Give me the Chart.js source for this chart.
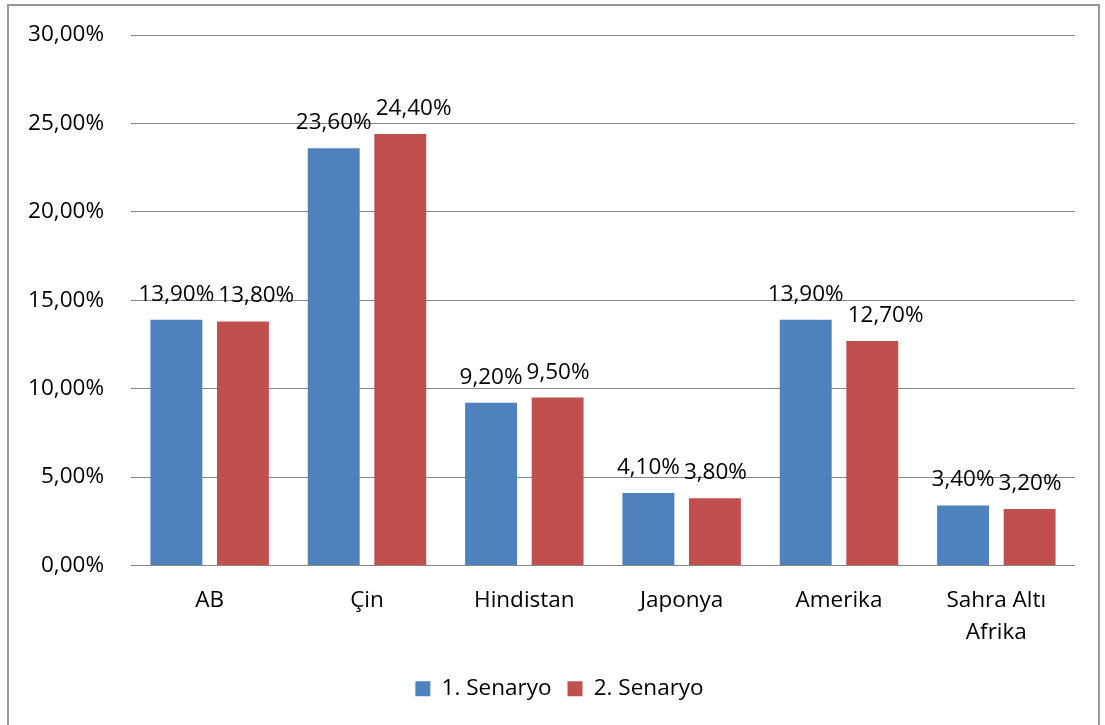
<!DOCTYPE html>
<html>
<head>
<meta charset="utf-8">
<script src="https://cdn.jsdelivr.net/npm/chart.js@4.4.1/dist/chart.umd.min.js"></script>
<style>
  body { margin: 0; background: #fff; }
  .wrap { position: relative; width: 1105px; height: 725px; overflow: hidden; }
  .frame { position: absolute; left: 7px; top: 4px; width: 1093px; height: 760px; border: 2px solid #999; box-sizing: border-box; }
  canvas { position: absolute; left: 0; top: 0; }
</style>
</head>
<body>
<div class="wrap">
  <div class="frame"></div>
  <canvas id="chart" width="1105" height="725"></canvas>
</div>
<script>
// Data (percent)
const categories = ['AB', 'Çin', 'Hindistan', 'Japonya', 'Amerika', ['Sahra Altı', 'Afrika']];
const senaryo1 = [13.9, 23.6, 9.2, 4.1, 13.9, 3.4];
const senaryo2 = [13.8, 24.4, 9.5, 3.8, 12.7, 3.2];
const seriesNames = ['1. Senaryo', '2. Senaryo'];
const yMax = 30;
const yStep = 5;

const fontFamily = "'Open Sans', sans-serif";
const fontSize = 22.5;
const textColor = '#000';
const gridColor = '#878787';

const fmt = v => v.toFixed(2).replace('.', ',') + '%';

// Value labels above bars, pushed apart when they would overlap
const valueLabels = {
  id: 'valueLabels',
  afterDatasetsDraw(chart) {
    const ctx = chart.ctx;
    ctx.save();
    ctx.font = fontSize + 'px ' + fontFamily;
    ctx.fillStyle = textColor;
    ctx.textAlign = 'center';
    ctx.textBaseline = 'alphabetic';
    const m0 = chart.getDatasetMeta(0).data;
    const m1 = chart.getDatasetMeta(1).data;
    m0.forEach((bar, i) => {
      const t0 = fmt(chart.data.datasets[0].data[i]);
      const t1 = fmt(chart.data.datasets[1].data[i]);
      const w0 = ctx.measureText(t0).width;
      const w1 = ctx.measureText(t1).width;
      let x0 = bar.x;
      let x1 = m1[i].x;
      const overlap = (x0 + w0 / 2 + 4) - (x1 - w1 / 2);
      if (overlap > 0) x1 += overlap;
      ctx.fillText(t0, x0, bar.y - 19);
      ctx.fillText(t1, x1, m1[i].y - 19);
    });
    ctx.restore();
  }
};

// legend sits centred under the whole frame, not just the plot
const shiftLegend = {
  id: 'shiftLegend',
  afterLayout(chart) {
    if (chart.legend) {
      chart.legend.left += 22;
      chart.legend.right += 22;
    }
  }
};

new Chart(document.getElementById('chart'), {
  type: 'bar',
  data: {
    labels: categories,
    datasets: [
      { label: seriesNames[0], data: senaryo1, backgroundColor: '#4F81BD' },
      { label: seriesNames[1], data: senaryo2, backgroundColor: '#C0504D' }
    ]
  },
  options: {
    responsive: false,
    animation: false,
    layout: { padding: { top: 35, right: 30, bottom: 15, left: 0 } },
    datasets: { bar: { categoryPercentage: 0.846, barPercentage: 0.78 } },
    plugins: {
      tooltip: { enabled: false },
      legend: {
        position: 'bottom',
        labels: {
          color: textColor,
          font: { family: fontFamily, size: fontSize },
          boxWidth: 15,
          boxHeight: 15,
          padding: 16
        }
      }
    },
    scales: {
      x: {
        grid: { display: false, drawTicks: false },
        border: { display: false },
        ticks: {
          color: textColor,
          font: { family: fontFamily, size: fontSize, lineHeight: 1.42 },
          padding: 19,
          maxRotation: 0
        },
        afterFit(scale) { scale.height = 96; }
      },
      y: {
        min: 0,
        max: yMax,
        grid: { color: gridColor, lineWidth: 1, drawTicks: false },
        border: { display: false },
        ticks: {
          stepSize: yStep,
          color: textColor,
          font: { family: fontFamily, size: fontSize },
          padding: 27,
          callback: v => fmt(v)
        },
        afterFit(scale) {
          scale.width = 131;
          scale.paddingTop = 0;
          scale.paddingBottom = 0;
        }
      }
    }
  },
  plugins: [valueLabels, shiftLegend]
});
</script>
</body>
</html>
